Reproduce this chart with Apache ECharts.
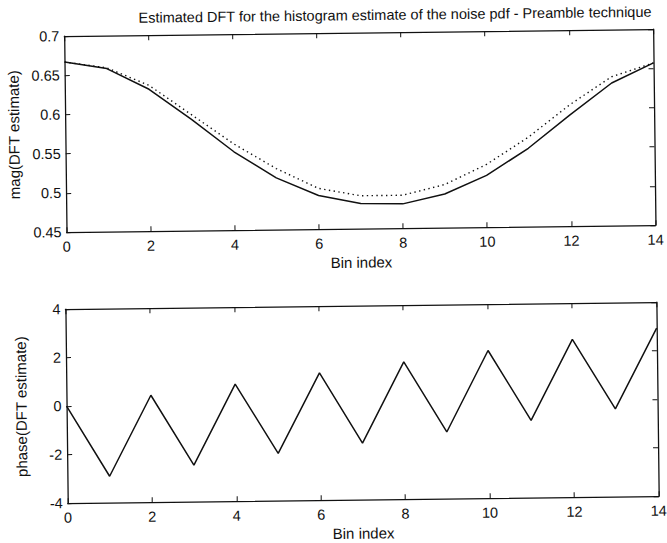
<!DOCTYPE html>
<html>
<head>
<meta charset="utf-8">
<script src="https://cdn.jsdelivr.net/npm/echarts@6/dist/echarts.min.js"></script>
<style>
  html, body { margin: 0; padding: 0; background: #fff; }
  #chart { width: 667px; height: 543px; transform: rotate(-0.68deg); transform-origin: 50% 50%; }
</style>
</head>
<body>
<div id="chart"></div>
<script>
// Bin indices shared by both panels
const binIndex = [0, 1, 2, 3, 4, 5, 6, 7, 8, 9, 10, 11, 12, 13, 14];

// Magnitude of the DFT estimate (solid) and reference magnitude (dotted)
const magEstimate = [0.667, 0.658, 0.631, 0.592, 0.550, 0.516, 0.493, 0.482, 0.481, 0.493, 0.516, 0.550, 0.592, 0.632, 0.657];
const magReference = [0.667, 0.659, 0.636, 0.598, 0.560, 0.528, 0.502, 0.492, 0.492, 0.505, 0.530, 0.564, 0.605, 0.640, 0.657];

// Phase of the DFT estimate (radians)
const phaseEstimate = [0.00, -2.91, 0.41, -2.49, 0.83, -2.05, 1.25, -1.67, 1.66, -1.25, 2.09, -0.81, 2.51, -0.38, 2.93];

// Axis ticks
const magTicks = [0.45, 0.5, 0.55, 0.6, 0.65, 0.7];
const phaseTicks = [-4, -2, 0, 2, 4];
const binTicks = [0, 2, 4, 6, 8, 10, 12, 14];

const FONT = '"Liberation Sans", Arial, Helvetica, sans-serif';
const INK = '#111';

function pairs(xs, ys) { return xs.map((x, i) => [x, ys[i]]); }

function xAxisFor(gridIndex, withLabels) {
  return {
    type: 'value', gridIndex,
    position: withLabels ? 'bottom' : 'top',
    min: binTicks[0], max: binTicks[binTicks.length - 1], interval: binTicks[1] - binTicks[0],
    name: withLabels ? 'Bin index' : '',
    nameLocation: 'middle', nameGap: 26,
    nameTextStyle: { fontFamily: FONT, fontSize: 15, color: INK },
    axisLine: { show: true, onZero: false, lineStyle: { color: INK, width: 1.3 } },
    axisTick: { show: true, inside: true, length: 5, lineStyle: { color: INK, width: 1 } },
    axisLabel: { show: withLabels, margin: 7, fontFamily: FONT, fontSize: 14.5, color: INK },
    splitLine: { show: false }
  };
}

function yAxisFor(gridIndex, ticks, title, withLabels) {
  return {
    type: 'value', gridIndex,
    position: withLabels ? 'left' : 'right',
    min: ticks[0], max: ticks[ticks.length - 1], interval: ticks[1] - ticks[0],
    name: withLabels ? title : '',
    nameLocation: 'middle', nameGap: 38, nameRotate: 90,
    nameTextStyle: { fontFamily: FONT, fontSize: 15, color: INK },
    axisLine: { show: true, onZero: false, lineStyle: { color: INK, width: 1.3 } },
    axisTick: { show: true, inside: true, length: 5, lineStyle: { color: INK, width: 1 } },
    axisLabel: {
      show: withLabels, margin: 5, fontFamily: FONT, fontSize: 14.5, color: INK,
      formatter: v => String(+v.toFixed(2))
    },
    splitLine: { show: false }
  };
}

const chart = echarts.init(document.getElementById('chart'), null, { renderer: 'svg' });
chart.setOption({
  backgroundColor: '#fff',
  animation: false,
  title: {
    text: 'Estimated DFT for the histogram estimate of the noise pdf - Preamble technique',
    left: 393, top: 3, textAlign: 'center',
    textStyle: { fontFamily: FONT, fontSize: 14.5, fontWeight: 'normal', color: INK }
  },
  grid: [
    { left: 65, top: 33, width: 591, height: 196 },
    { left: 65, top: 306, width: 591, height: 194 }
  ],
  xAxis: [
    xAxisFor(0, true), xAxisFor(0, false),
    xAxisFor(1, true), xAxisFor(1, false)
  ],
  yAxis: [
    yAxisFor(0, magTicks, 'mag(DFT estimate)', true), yAxisFor(0, magTicks, '', false),
    yAxisFor(1, phaseTicks, 'phase(DFT estimate)', true), yAxisFor(1, phaseTicks, '', false)
  ],
  series: [
    {
      type: 'line', xAxisIndex: 0, yAxisIndex: 0,
      data: pairs(binIndex, magReference), showSymbol: false,
      lineStyle: { color: INK, width: 1.4, type: [1.4, 3.4] }
    },
    {
      type: 'line', xAxisIndex: 0, yAxisIndex: 0,
      data: pairs(binIndex, magEstimate), showSymbol: false,
      lineStyle: { color: INK, width: 1.5 }
    },
    {
      type: 'line', xAxisIndex: 2, yAxisIndex: 2,
      data: pairs(binIndex, phaseEstimate), showSymbol: false,
      lineStyle: { color: INK, width: 1.5 }
    }
  ]
});
</script>
</body>
</html>
